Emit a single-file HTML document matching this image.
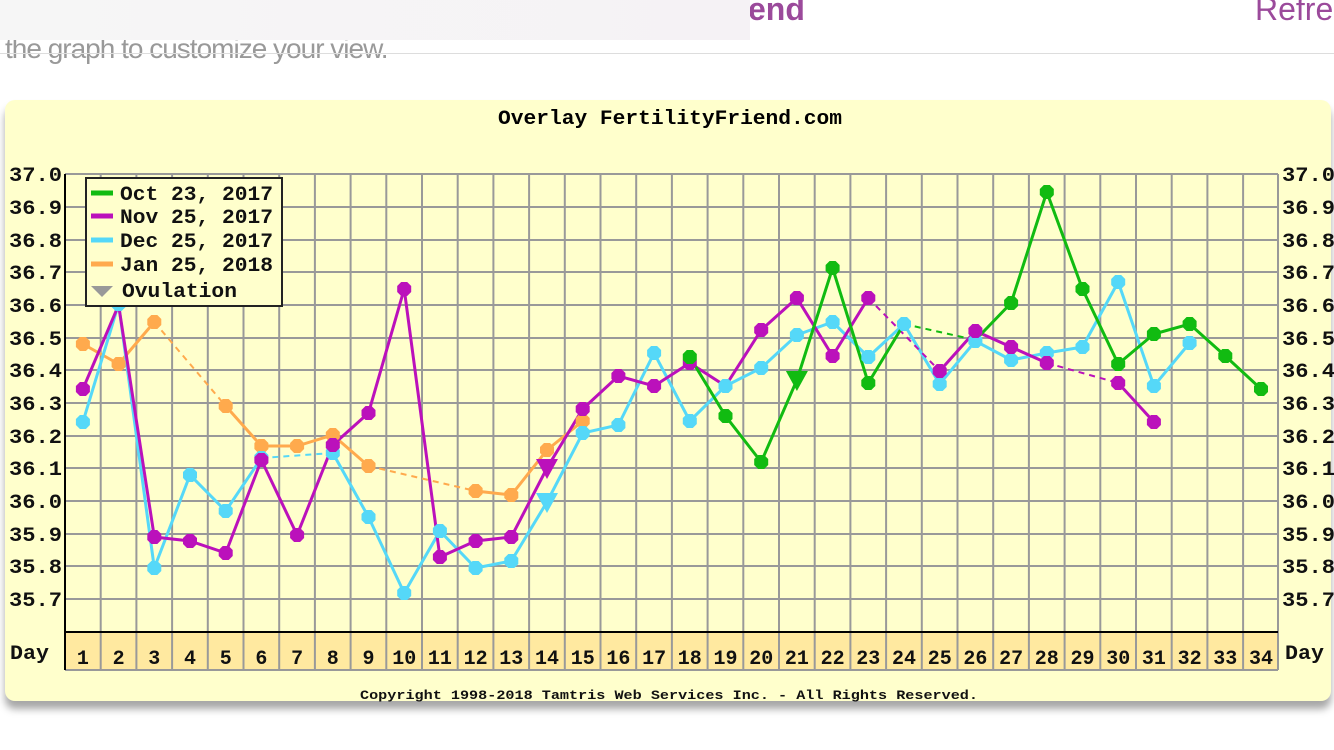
<!DOCTYPE html>
<html><head><meta charset="utf-8"><style>
body{margin:0;width:1334px;height:750px;background:#fff;overflow:hidden;position:relative;font-family:"Liberation Sans",sans-serif}
.top{position:absolute;left:0;top:0;width:750px;height:40px;background:linear-gradient(90deg,#f6f6f6,#f5f2f5)}
.hl{position:absolute;top:53px;left:0;width:1334px;height:1px;background:#ddd}
.panel{position:absolute;left:5px;top:100px;width:1326px;height:601px;background:#ffffcc;border-radius:10px;box-shadow:0 8px 8px rgba(0,0,0,.35)}
svg{position:absolute;left:0;top:0}
text{font-family:"Liberation Mono",monospace;font-weight:bold}
</style></head><body>
<div style="position:absolute;left:748px;top:-9px;font-size:32px;color:#9b4a9b;font-weight:bold">end</div>
<div style="position:absolute;left:1255px;top:-9px;font-size:32px;color:#9b4a9b">Refre</div>
<div style="position:absolute;left:5px;top:33px;font-size:28px;color:#999;letter-spacing:-1px">the graph to customize your view.</div>
<div class="top"></div>
<div class="hl"></div>
<div class="panel"></div>
<svg width="1334" height="750" viewBox="0 0 1334 750">
<defs>
<polygon id="m" points="-3,-7 3,-7 7,-3 7,3 3,7 -3,7 -7,3 -7,-3"/>
<polygon id="t" points="-11,-9 11,-9 0,11"/>
</defs>
<rect x="65" y="632" width="1213" height="38" fill="#ffe9a0"/>
<g stroke="#999" stroke-width="2" fill="none">
<path d="M65 174H1278M65 207H1278M65 240H1278M65 272H1278M65 305H1278M65 338H1278M65 370H1278M65 403H1278M65 436H1278M65 468H1278M65 501H1278M65 534H1278M65 566H1278M65 599H1278"/>
<path d="M100.7 174V670M136.4 174V670M172.1 174V670M207.8 174V670M243.5 174V670M279.2 174V670M314.9 174V670M350.6 174V670M386.3 174V670M422 174V670M457.7 174V670M493.4 174V670M529.1 174V670M564.8 174V670M600.5 174V670M636.2 174V670M671.9 174V670M707.6 174V670M743.3 174V670M779 174V670M814.7 174V670M850.4 174V670M886.1 174V670M921.8 174V670M957.5 174V670M993.2 174V670M1028.9 174V670M1064.6 174V670M1100.3 174V670M1136 174V670M1171.7 174V670M1207.4 174V670M1243.1 174V670M1278 174V670M65 670H1278"/>
</g>
<path d="M65 174V670M65 632H1278" stroke="#000" stroke-width="2"/>
<text x="498" y="124" font-size="20" textLength="344" lengthAdjust="spacingAndGlyphs" fill="#000">Overlay FertilityFriend.com</text>
<g font-size="20" fill="#111">
<text x="9" y="181" textLength="53" lengthAdjust="spacingAndGlyphs">37.0</text><text x="9" y="214" textLength="53" lengthAdjust="spacingAndGlyphs">36.9</text><text x="9" y="247" textLength="53" lengthAdjust="spacingAndGlyphs">36.8</text><text x="9" y="279" textLength="53" lengthAdjust="spacingAndGlyphs">36.7</text><text x="9" y="312" textLength="53" lengthAdjust="spacingAndGlyphs">36.6</text><text x="9" y="345" textLength="53" lengthAdjust="spacingAndGlyphs">36.5</text><text x="9" y="377" textLength="53" lengthAdjust="spacingAndGlyphs">36.4</text><text x="9" y="410" textLength="53" lengthAdjust="spacingAndGlyphs">36.3</text><text x="9" y="443" textLength="53" lengthAdjust="spacingAndGlyphs">36.2</text><text x="9" y="475" textLength="53" lengthAdjust="spacingAndGlyphs">36.1</text><text x="9" y="508" textLength="53" lengthAdjust="spacingAndGlyphs">36.0</text><text x="9" y="541" textLength="53" lengthAdjust="spacingAndGlyphs">35.9</text><text x="9" y="573" textLength="53" lengthAdjust="spacingAndGlyphs">35.8</text><text x="9" y="606" textLength="53" lengthAdjust="spacingAndGlyphs">35.7</text>
<text x="10" y="659" textLength="39" lengthAdjust="spacingAndGlyphs">Day</text><text x="1285" y="659" textLength="39" lengthAdjust="spacingAndGlyphs">Day</text>
<text x="1282" y="181" textLength="53" lengthAdjust="spacingAndGlyphs">37.0</text><text x="1282" y="214" textLength="53" lengthAdjust="spacingAndGlyphs">36.9</text><text x="1282" y="247" textLength="53" lengthAdjust="spacingAndGlyphs">36.8</text><text x="1282" y="279" textLength="53" lengthAdjust="spacingAndGlyphs">36.7</text><text x="1282" y="312" textLength="53" lengthAdjust="spacingAndGlyphs">36.6</text><text x="1282" y="345" textLength="53" lengthAdjust="spacingAndGlyphs">36.5</text><text x="1282" y="377" textLength="53" lengthAdjust="spacingAndGlyphs">36.4</text><text x="1282" y="410" textLength="53" lengthAdjust="spacingAndGlyphs">36.3</text><text x="1282" y="443" textLength="53" lengthAdjust="spacingAndGlyphs">36.2</text><text x="1282" y="475" textLength="53" lengthAdjust="spacingAndGlyphs">36.1</text><text x="1282" y="508" textLength="53" lengthAdjust="spacingAndGlyphs">36.0</text><text x="1282" y="541" textLength="53" lengthAdjust="spacingAndGlyphs">35.9</text><text x="1282" y="573" textLength="53" lengthAdjust="spacingAndGlyphs">35.8</text><text x="1282" y="606" textLength="53" lengthAdjust="spacingAndGlyphs">35.7</text>
</g>
<g font-size="20" fill="#111" text-anchor="middle">
<text x="82.9" y="664">1</text><text x="118.6" y="664">2</text><text x="154.3" y="664">3</text><text x="190" y="664">4</text><text x="225.7" y="664">5</text><text x="261.4" y="664">6</text><text x="297.1" y="664">7</text><text x="332.8" y="664">8</text><text x="368.5" y="664">9</text><text x="404.2" y="664">10</text><text x="439.9" y="664">11</text><text x="475.6" y="664">12</text><text x="511.3" y="664">13</text><text x="547" y="664">14</text><text x="582.7" y="664">15</text><text x="618.4" y="664">16</text><text x="654.1" y="664">17</text><text x="689.8" y="664">18</text><text x="725.5" y="664">19</text><text x="761.2" y="664">20</text><text x="796.9" y="664">21</text><text x="832.6" y="664">22</text><text x="868.3" y="664">23</text><text x="904" y="664">24</text><text x="939.7" y="664">25</text><text x="975.4" y="664">26</text><text x="1011.1" y="664">27</text><text x="1046.8" y="664">28</text><text x="1082.5" y="664">29</text><text x="1118.2" y="664">30</text><text x="1153.9" y="664">31</text><text x="1189.6" y="664">32</text><text x="1225.3" y="664">33</text><text x="1261" y="664">34</text>
</g>
<text x="360" y="699" font-size="13" font-weight="normal" fill="#111" textLength="618" lengthAdjust="spacingAndGlyphs">Copyright 1998-2018 Tamtris Web Services Inc. - All Rights Reserved.</text>
<g fill="none" stroke-width="3">
<polyline stroke="#ffaa4d" points="82.9,344 118.6,364 154.3,322"/>
<polyline stroke="#ffaa4d" stroke-dasharray="6,5" stroke-width="2" points="154.3,322 225.7,406"/>
<polyline stroke="#ffaa4d" points="225.7,406 261.4,446 297.1,446 332.8,435 368.5,466"/>
<polyline stroke="#ffaa4d" stroke-dasharray="6,5" stroke-width="2" points="368.5,466 475.6,491"/>
<polyline stroke="#ffaa4d" points="475.6,491 511.3,495 547,450 582.7,421"/>
<polyline stroke="#55d8f8" points="82.9,422 118.6,304 154.3,568 190,475 225.7,511 261.4,458"/>
<polyline stroke="#55d8f8" stroke-dasharray="6,5" stroke-width="2" points="261.4,458 332.8,453"/>
<polyline stroke="#55d8f8" points="332.8,453 368.5,517 404.2,593 439.9,531 475.6,568 511.3,561 547,502 582.7,433 618.4,425 654.1,353 689.8,421 725.5,386 761.2,368 796.9,335 832.6,322 868.3,357 904,324 939.7,384 975.4,341 1011.1,360 1046.8,353 1082.5,347 1118.2,282 1153.9,386 1189.6,343"/>
<polyline stroke="#bb11bb" points="82.9,389 118.6,305 154.3,537 190,541 225.7,553 261.4,460 297.1,535 332.8,445 368.5,413 404.2,289 439.9,557 475.6,541 511.3,537 547,468 582.7,409 618.4,376 654.1,386 689.8,363 725.5,386 761.2,330 796.9,298 832.6,356 868.3,298"/>
<polyline stroke="#bb11bb" stroke-dasharray="6,5" stroke-width="2" points="868.3,298 939.7,371"/>
<polyline stroke="#bb11bb" points="939.7,371 975.4,331 1011.1,347 1046.8,363"/>
<polyline stroke="#bb11bb" stroke-dasharray="6,5" stroke-width="2" points="1046.8,363 1118.2,383"/>
<polyline stroke="#bb11bb" points="1118.2,383 1153.9,422"/>
<polyline stroke="#11bb11" points="689.8,357 725.5,416 761.2,462 796.9,380 832.6,268 868.3,383 904,324"/>
<polyline stroke="#11bb11" stroke-dasharray="6,5" stroke-width="2" points="904,324 975.4,340"/>
<polyline stroke="#11bb11" points="975.4,340 1011.1,303 1046.8,192 1082.5,289 1118.2,364 1153.9,334 1189.6,324 1225.3,356 1261,389"/>
</g>
<g fill="#ffaa4d"><use href="#m" x="82.9" y="344"/><use href="#m" x="118.6" y="364"/><use href="#m" x="154.3" y="322"/><use href="#m" x="225.7" y="406"/><use href="#m" x="261.4" y="446"/><use href="#m" x="297.1" y="446"/><use href="#m" x="332.8" y="435"/><use href="#m" x="368.5" y="466"/><use href="#m" x="475.6" y="491"/><use href="#m" x="511.3" y="495"/><use href="#m" x="547" y="450"/><use href="#m" x="582.7" y="421"/></g>
<g fill="#55d8f8"><use href="#m" x="82.9" y="422"/><use href="#m" x="118.6" y="304"/><use href="#m" x="154.3" y="568"/><use href="#m" x="190" y="475"/><use href="#m" x="225.7" y="511"/><use href="#m" x="261.4" y="458"/><use href="#m" x="332.8" y="453"/><use href="#m" x="368.5" y="517"/><use href="#m" x="404.2" y="593"/><use href="#m" x="439.9" y="531"/><use href="#m" x="475.6" y="568"/><use href="#m" x="511.3" y="561"/><use href="#t" x="547" y="502"/><use href="#m" x="582.7" y="433"/><use href="#m" x="618.4" y="425"/><use href="#m" x="654.1" y="353"/><use href="#m" x="689.8" y="421"/><use href="#m" x="725.5" y="386"/><use href="#m" x="761.2" y="368"/><use href="#m" x="796.9" y="335"/><use href="#m" x="832.6" y="322"/><use href="#m" x="868.3" y="357"/><use href="#m" x="904" y="324"/><use href="#m" x="939.7" y="384"/><use href="#m" x="975.4" y="341"/><use href="#m" x="1011.1" y="360"/><use href="#m" x="1046.8" y="353"/><use href="#m" x="1082.5" y="347"/><use href="#m" x="1118.2" y="282"/><use href="#m" x="1153.9" y="386"/><use href="#m" x="1189.6" y="343"/></g>
<g fill="#bb11bb"><use href="#m" x="82.9" y="389"/><use href="#m" x="154.3" y="537"/><use href="#m" x="190" y="541"/><use href="#m" x="225.7" y="553"/><use href="#m" x="261.4" y="460"/><use href="#m" x="297.1" y="535"/><use href="#m" x="332.8" y="445"/><use href="#m" x="368.5" y="413"/><use href="#m" x="404.2" y="289"/><use href="#m" x="439.9" y="557"/><use href="#m" x="475.6" y="541"/><use href="#m" x="511.3" y="537"/><use href="#t" x="547" y="468"/><use href="#m" x="582.7" y="409"/><use href="#m" x="618.4" y="376"/><use href="#m" x="654.1" y="386"/><use href="#m" x="689.8" y="363"/><use href="#m" x="761.2" y="330"/><use href="#m" x="796.9" y="298"/><use href="#m" x="832.6" y="356"/><use href="#m" x="868.3" y="298"/><use href="#m" x="939.7" y="371"/><use href="#m" x="975.4" y="331"/><use href="#m" x="1011.1" y="347"/><use href="#m" x="1046.8" y="363"/><use href="#m" x="1118.2" y="383"/><use href="#m" x="1153.9" y="422"/></g>
<g fill="#11bb11"><use href="#m" x="689.8" y="357"/><use href="#m" x="725.5" y="416"/><use href="#m" x="761.2" y="462"/><use href="#t" x="796.9" y="380"/><use href="#m" x="832.6" y="268"/><use href="#m" x="868.3" y="383"/><use href="#m" x="1011.1" y="303"/><use href="#m" x="1046.8" y="192"/><use href="#m" x="1082.5" y="289"/><use href="#m" x="1118.2" y="364"/><use href="#m" x="1153.9" y="334"/><use href="#m" x="1189.6" y="324"/><use href="#m" x="1225.3" y="356"/><use href="#m" x="1261" y="389"/></g>
<rect x="86" y="178" width="196" height="128" fill="#ffffcc" stroke="#222" stroke-width="2"/>
<g stroke-width="5"><path d="M91 193H113" stroke="#11bb11"/><path d="M91 216H113" stroke="#bb11bb"/><path d="M91 240H113" stroke="#55d8f8"/><path d="M91 264H113" stroke="#ffaa4d"/></g>
<polygon points="91,286 113,286 102,297" fill="#999"/>
<g font-size="20" fill="#111"><text x="120" y="200" textLength="153" lengthAdjust="spacingAndGlyphs">Oct 23, 2017</text><text x="120" y="223" textLength="153" lengthAdjust="spacingAndGlyphs">Nov 25, 2017</text><text x="120" y="247" textLength="153" lengthAdjust="spacingAndGlyphs">Dec 25, 2017</text><text x="120" y="271" textLength="153" lengthAdjust="spacingAndGlyphs">Jan 25, 2018</text><text x="122" y="297" textLength="115" lengthAdjust="spacingAndGlyphs">Ovulation</text></g>
</svg>
</body></html>
